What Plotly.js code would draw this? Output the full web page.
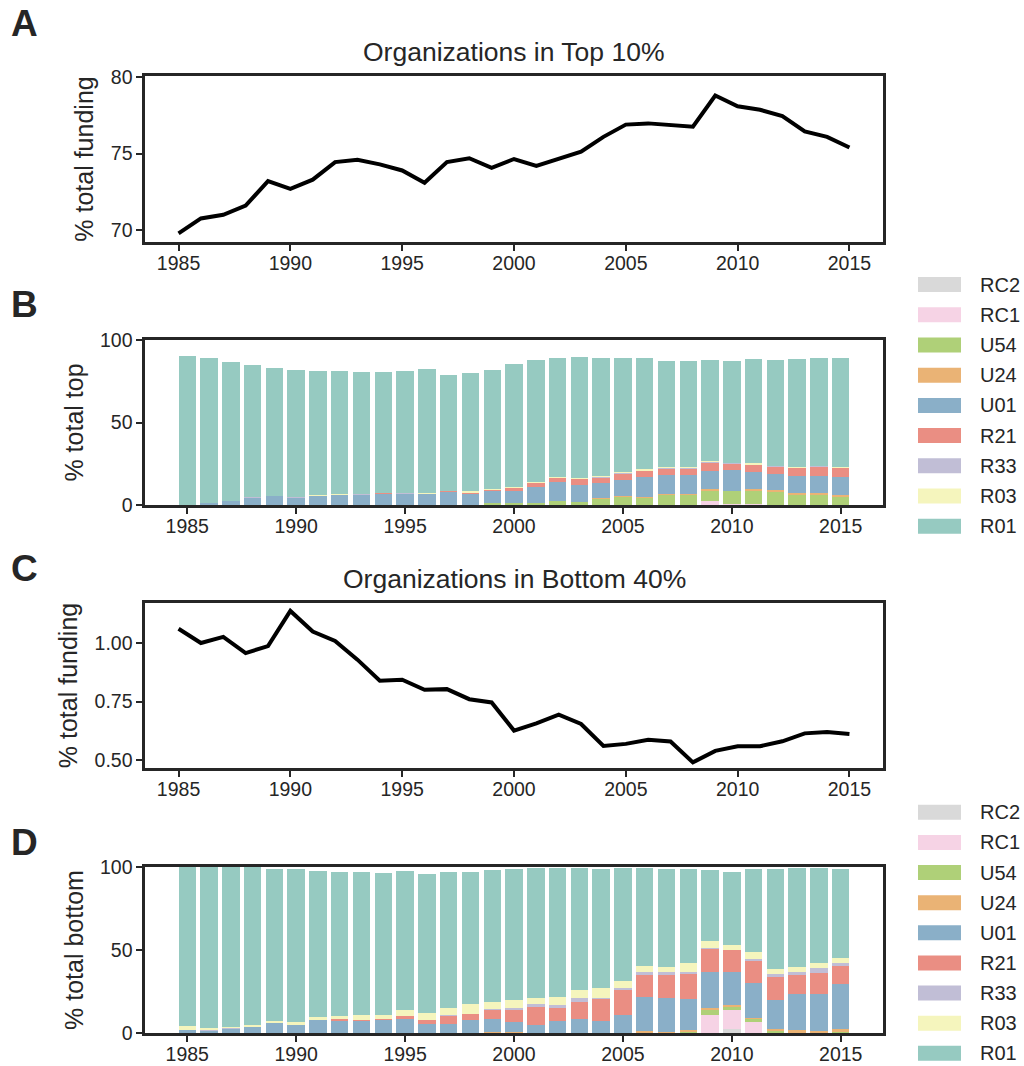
<!DOCTYPE html>
<html>
<head>
<meta charset="utf-8">
<script src="https://cdn.plot.ly/plotly-3.0.1.min.js"></script>
<style>html,body{margin:0;padding:0;background:#fff;}#chart{width:1024px;height:1066px;}</style>
</head>
<body>
<div id="chart"></div>
<script>
// ---------- DATA ----------
const years = [1985,1986,1987,1988,1989,1990,1991,1992,1993,1994,1995,1996,1997,1998,1999,2000,2001,2002,2003,2004,2005,2006,2007,2008,2009,2010,2011,2012,2013,2014,2015];

// Panel A: % of total funding held by organizations in top 10%
const topFunding = [69.78,70.76,71.0,71.6,73.2,72.7,73.3,74.45,74.6,74.3,73.9,73.1,74.45,74.7,74.07,74.65,74.2,74.7,75.13,76.1,76.9,76.98,76.9,76.76,78.8,78.1,77.87,77.46,76.46,76.1,75.4];

// Panel C: % of total funding held by organizations in bottom 40%
const bottomFunding = [1.061,1.00,1.026,0.957,0.987,1.137,1.049,1.009,0.929,0.839,0.843,0.80,0.803,0.76,0.746,0.626,0.657,0.694,0.654,0.56,0.569,0.587,0.579,0.49,0.539,0.559,0.559,0.58,0.614,0.62,0.611];

// Stack order (bottom -> top) and legend labels
const mechanisms = ["RC2","RC1","U54","U24","U01","R21","R33","R03","R01"];

// Panel B: % total top, per mechanism
const topRC2 = [0,0,0,0,0,0,0,0,0,0,0,0,0,0,0,0,0,0,0,0,0,0,0,0,0,0,0,0,0,0,0];
const topRC1 = [0,0,0,0,0,0,0,0,0,0,0,0,0,0,0,0,0,0,0,0,0,0,0,0,2.4,0.8,0.8,0,0,0,0];
const topU54 = [0,0,0,0,0,0,0,0,0,0,0,0,0,0,1.4,1.4,1.4,2.7,2.0,3.7,4.9,4.1,6.1,6.1,6.3,7.8,7.8,7.6,6.3,6.3,4.9];
const topU24 = [0,0,0,0,0,0,0,0,0,0,0,0,0,0,0,0,0,0,0,0.4,0.4,1.0,0.4,0.8,1.2,0,1.0,1.2,0.8,0.8,1.0];
const topU01 = [0.3,1.0,2.6,4.5,5.3,4.5,5.7,6.3,6.3,6.9,6.9,6.5,7.7,6.9,7.3,7.3,9.8,11.0,10.4,9.2,9.6,11.8,11.6,11.2,11.0,12.4,10.2,9.8,10.2,10.2,11.0];
const topR21 = [0,0,0,0,0,0,0,0,0,0.6,0,0.4,0.6,0.6,0.6,1.8,2.0,2.7,3.3,3.1,3.9,3.7,3.7,3.7,4.5,3.9,4.5,4.5,5.1,5.7,5.5];
const topR33 = [0,0,0,0.4,0,0.4,0,0,0.4,0,0.6,0,0,0,0,0,0,0,0,0.6,0.6,0,0.6,0.6,0.6,0.6,0,0.6,0,0.4,0];
const topR03 = [0,0.5,0,0,0,0,0.6,0.6,0,0,0,0.6,0.4,0.8,0.6,0.6,0.6,0.6,0.6,0.4,0.4,1.0,0.4,0.4,0.6,0,1.0,0,0.6,0,0.6];
const topR01 = [90.0,87.5,84.0,79.9,77.7,76.8,74.8,74.2,73.8,73.0,73.6,74.9,70.0,71.6,71.8,74.2,74.0,72.0,73.3,71.6,69.2,67.4,64.3,64.3,61.2,61.6,63.1,64.1,65.4,65.6,66.0];

// Panel D: % total bottom, per mechanism
const botRC2 = [0,0,0,0,0,0,0,0,0,0,0,0,0,0,0,0,0,0,0,0,0,0,0,0,0,2.5,0,0,0,0,0];
const botRC1 = [0,0,0,0,0,0,0,0,0,0,0,0,0,0,0,0,0,0,0,0,0,0,0,0,11.1,11.1,6.8,0,0,0,0];
const botU54 = [0,0,0,0,0,0,0,0,0,0,0,0,0,0,0,0,0,0,0,0,0,0,0,0.8,2.5,1.8,1.4,1.2,0,0,0.6];
const botU24 = [0,0,0,0,0,0,0,0,0,0,0,0,0,0,0.8,0.6,0,0,0,0,0,1.2,0.8,1.0,1.2,1.2,1.0,1.2,1.8,1.2,1.8];
const botU01 = [1.6,1.0,2.6,3.4,5.9,4.7,7.7,7.3,7.3,7.7,8.5,5.3,5.3,7.7,7.5,6.3,4.9,7.0,8.6,7.4,10.7,20.5,20.1,18.6,22.1,20.3,20.9,17.2,21.5,22.1,27.0];
const botR21 = [0,0,0,0,0,0,0,1.2,0.4,0.8,1.6,2.4,4.9,3.6,5.3,7.2,10.5,7.8,9.8,13.1,15.2,13.3,14.1,15.2,13.5,12.9,13.5,14.1,11.7,12.9,11.1];
const botR33 = [0,0.6,0.4,0,0,0,0,0,0,0,0,0,0.6,0,0.6,1.2,1.8,1.8,2.5,0.4,1.2,1.8,1.8,1.2,0.8,0,1.2,1.8,1.8,3.1,1.8];
const botR03 = [2.4,1.2,0.4,1.2,1.2,1.8,1.8,1.6,3.0,2.2,3.6,4.3,4.3,6.1,4.3,4.3,3.7,4.9,4.9,6.1,4.3,3.7,3.1,5.5,4.1,3.1,3.7,3.1,3.1,3.1,3.1];
const botR01 = [95.8,97.0,96.4,95.2,91.5,92.1,87.9,86.7,86.1,85.5,83.7,83.6,81.7,79.4,79.5,79.2,78.5,77.9,73.6,71.8,68.0,58.9,58.9,56.5,42.8,44.0,50.3,60.2,59.5,57.0,53.4];

const topSeries = [topRC2,topRC1,topU54,topU24,topU01,topR21,topR33,topR03,topR01];
const botSeries = [botRC2,botRC1,botU54,botU24,botU01,botR21,botR33,botR03,botR01];

// ---------- STYLE ----------
const colors = ["#d9d9d9","#f6d3e5","#afd078","#eab375","#8aafc8","#ea8e83","#c1bed6","#f5f5bd","#96cac1"];
const FONT = "Liberation Sans, Arial, Helvetica, sans-serif";
const INK = "#262626";
const W = 1024, H = 1066;
const px = v => v / W;
const py = v => 1 - v / H;

const traces = [];
traces.push({x: years, y: topFunding, type: "scatter", mode: "lines",
  line: {color: "#000", width: 4}, xaxis: "x", yaxis: "y", showlegend: false, hoverinfo: "x+y"});
mechanisms.forEach((m, i) => {
  traces.push({x: years, y: topSeries[i], type: "bar", name: m, marker: {color: colors[i], line: {width: 0}},
    xaxis: "x2", yaxis: "y2", showlegend: false});
});
traces.push({x: years, y: bottomFunding, type: "scatter", mode: "lines",
  line: {color: "#000", width: 4}, xaxis: "x3", yaxis: "y3", showlegend: false, hoverinfo: "x+y"});
mechanisms.forEach((m, i) => {
  traces.push({x: years, y: botSeries[i], type: "bar", name: m, marker: {color: colors[i], line: {width: 0}},
    xaxis: "x4", yaxis: "y4", showlegend: false});
});

const xDom = [px(145), px(883)];
function xax(range, anchor) {
  return {domain: xDom, range: range, anchor: anchor, tickmode: "array",
    tickvals: [1985,1990,1995,2000,2005,2010,2015],
    showline: true, mirror: true, linecolor: INK, linewidth: 2.6,
    ticks: "outside", ticklen: 6, tickwidth: 2, tickcolor: INK,
    ticklabelstandoff: -4,
    showgrid: false, zeroline: false,
    tickfont: {family: FONT, size: 19.5, color: INK}};
}
function yax(dom, range, vals, txt, title, anchor) {
  return {domain: dom, range: range, anchor: anchor, tickmode: "array", tickvals: vals, ticktext: txt,
    showline: true, mirror: true, linecolor: INK, linewidth: 2.6,
    ticks: "outside", ticklen: 6, tickwidth: 2, tickcolor: INK,
    showgrid: false, zeroline: false,
    tickfont: {family: FONT, size: 19.5, color: INK},
    title: {text: title, standoff: 10, font: {family: FONT, size: 25, color: INK}}};
}

const layout = {
  width: W, height: H,
  margin: {l: 0, r: 0, t: 0, b: 0},
  paper_bgcolor: "#fff", plot_bgcolor: "#fff",
  barmode: "stack", bargap: 0.2,
  showlegend: false,
  font: {family: FONT, color: INK},
  xaxis:  xax([1983.5, 2016.5], "y"),
  yaxis:  yax([py(242), py(76)], [69.22, 80.08], [70,75,80], ["70","75","80"], "% total funding", "x"),
  xaxis2: xax([1983.06, 2016.94], "y2"),
  yaxis2: yax([py(505), py(340)], [0, 100], [0,50,100], ["0","50","100"], "% total top", "x2"),
  xaxis3: xax([1983.5, 2016.5], "y3"),
  yaxis3: yax([py(768), py(603)], [0.466, 1.171], [0.5,0.75,1.0], ["0.50","0.75","1.00"], "% total funding", "x3"),
  xaxis4: xax([1983.06, 2016.94], "y4"),
  yaxis4: yax([py(1033), py(867)], [0, 100], [0,50,100], ["0","50","100"], "% total bottom", "x4"),
  annotations: [],
  shapes: []
};

// titles
layout.annotations.push({text: "Organizations in Top 10%", x: px(514), y: py(52), xref: "paper", yref: "paper",
  xanchor: "center", yanchor: "middle", showarrow: false, font: {family: FONT, size: 26.5, color: INK}});
layout.annotations.push({text: "Organizations in Bottom 40%", x: px(514), y: py(579), xref: "paper", yref: "paper",
  xanchor: "center", yanchor: "middle", showarrow: false, font: {family: FONT, size: 26.5, color: INK}});

// panel letters
[["A",23],["B",305],["C",568],["D",842]].forEach(([t, y]) => {
  layout.annotations.push({text: "<b>" + t + "</b>", x: px(9), y: py(y), xref: "paper", yref: "paper",
    xanchor: "left", yanchor: "middle", showarrow: false, font: {family: FONT, size: 37, color: INK}});
});

// custom legends (wide swatches, like the reference)
function addLegend(yFirst, step) {
  mechanisms.forEach((m, i) => {
    const yc = yFirst + i * step;
    layout.shapes.push({type: "rect", xref: "paper", yref: "paper",
      x0: px(918), x1: px(961), y0: py(yc + 7.5), y1: py(yc - 7.5),
      fillcolor: colors[i], line: {width: 0}});
    layout.annotations.push({text: m, x: px(978), y: py(yc), xref: "paper", yref: "paper",
      xanchor: "left", yanchor: "middle", showarrow: false, font: {family: FONT, size: 20, color: INK}});
  });
}
addLegend(284.5, 30.22);
addLegend(812.3, 30.12);

Plotly.newPlot("chart", traces, layout, {displayModeBar: false, staticPlot: true});
</script>
</body>
</html>
